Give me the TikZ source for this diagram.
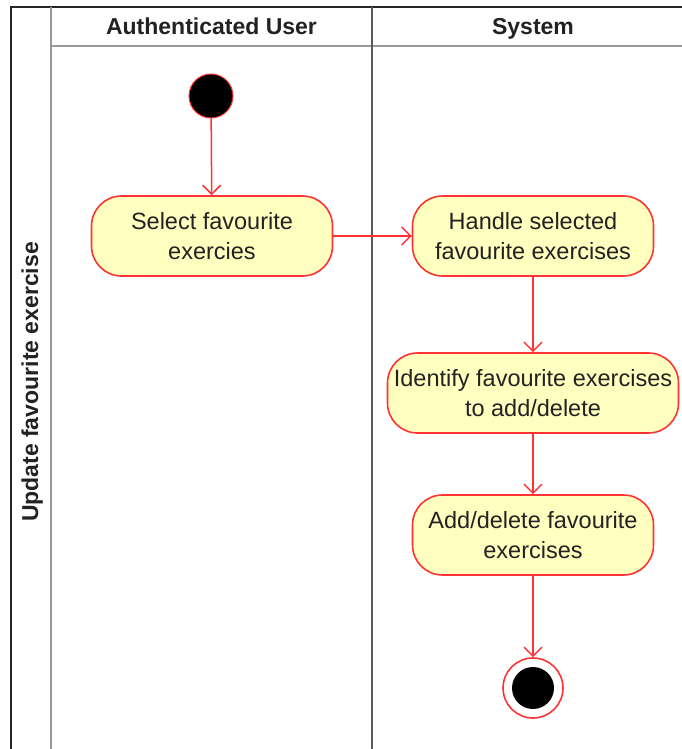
\documentclass[tikz,border=0pt]{standalone}
\usepackage{fontspec}
\setmainfont{Liberation Sans}
\usetikzlibrary{arrows.meta}
\definecolor{actfill}{HTML}{FFFFC0}
\definecolor{actred}{HTML}{FF3333}
\definecolor{txt}{HTML}{222222}
\begin{document}
\begin{tikzpicture}[x=1pt,y=-1pt,
  act/.style={draw=actred, line width=1.6pt, fill=actfill, rounded corners=30pt,
    minimum height=80pt, inner sep=0pt, align=center, text=txt,
    font=\fontsize{23.5}{30}\selectfont},
  flow/.style={draw=actred, line width=1.5pt, -{Straight Barb[length=9pt,width=18pt,line width=1.5pt]}},
  hdr/.style={font=\bfseries\fontsize{23}{28}\selectfont, text=txt, text height=17pt, text depth=5pt},
  frame/.style={line width=2pt, draw=black!85},
  sub/.style={line width=2pt, draw=black!40}]
\useasboundingbox (0,0) rectangle (682,749);
% swimlane frame
\draw[frame] (11,749) -- (11,7) -- (682,7);
\draw[sub] (51,7) -- (51,749);
\draw[sub] (51,46) -- (682,46);
\draw[line width=2pt, draw=black!65] (372,7) -- (372,749);
\node[hdr] (h1) at (211.5,29) {Authenticated User};
\node[hdr] (h2) at (533,29) {System};
\node[hdr, rotate=90] (pool) at (32,382) {Update favourite exercise};
% nodes
\node[circle, fill=black, draw=actred, line width=1pt, minimum size=44pt, inner sep=0pt] (start) at (211,96) {};
\node[act, minimum width=241pt] (sel) at (212,236) {Select favourite\\exercies};
\node[act, minimum width=241pt] (han) at (533,236) {Handle selected\\favourite exercises};
\node[act, minimum width=291pt] (idf) at (533,393) {Identify favourite exercises\\to add/delete};
\node[act, minimum width=241pt] (add) at (533,535) {Add/delete favourite\\exercises};
\node[circle, draw=actred, line width=1.6pt, fill=white, minimum size=60pt, inner sep=0pt] (end) at (533,688) {};
\node[circle, fill=black, minimum size=42pt, inner sep=0pt] (endin) at (end.center) {};
% flows
\draw[flow] (start) -- (sel);
\draw[flow] (sel) -- (han);
\draw[flow] (han) -- (idf);
\draw[flow] (idf) -- (add);
\draw[flow] (add) -- (end);
\end{tikzpicture}
\end{document}
